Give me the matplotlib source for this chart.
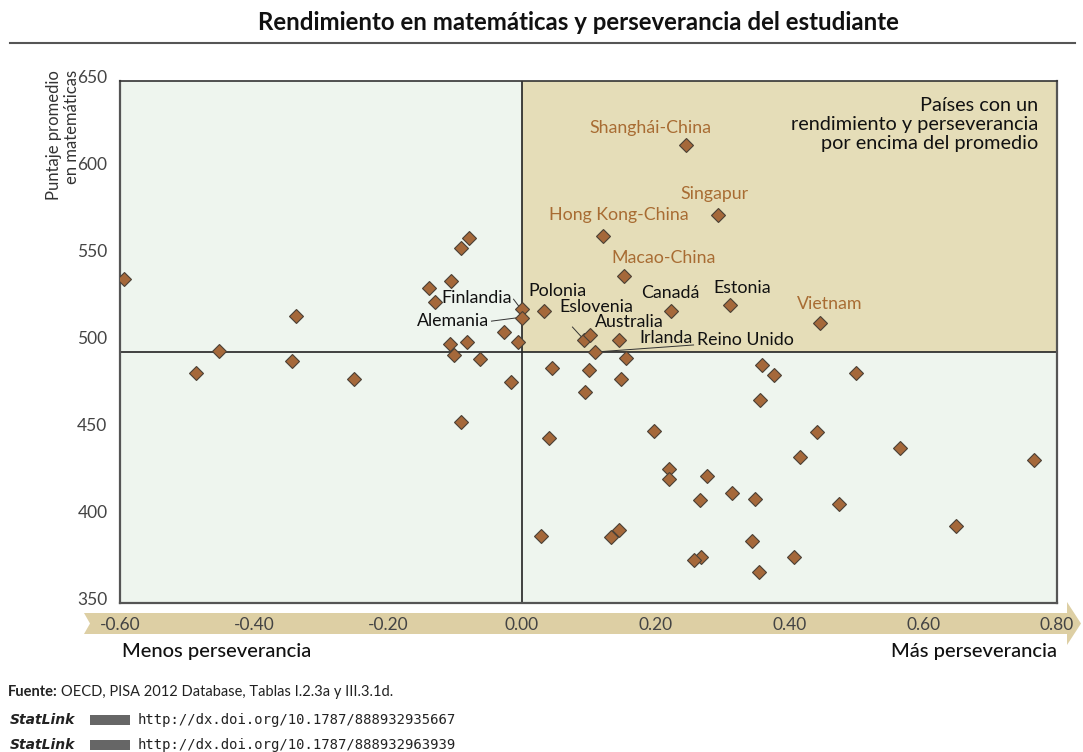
import matplotlib
matplotlib.use("Agg")
import matplotlib.pyplot as plt
import matplotlib.transforms as mtransforms
from matplotlib.patches import Polygon, Rectangle

# perseverance index (x) vs mean maths score (y)
persev = [-0.594, -0.486, -0.452, -0.337, -0.343, -0.251, -0.079, -0.090, -0.106, -0.139,
          -0.129, -0.027, -0.005, -0.107, -0.082, -0.101, -0.062, -0.016, -0.090,
          0.156, 0.046, 0.100, 0.148, 0.095, 0.359, 0.377, 0.356, 0.442, 0.198,
          0.041, 0.416, 0.221, 0.221, 0.277, 0.315, 0.266, 0.349, 0.029, 0.146,
          0.133, 0.345, 0.407, 0.268, 0.258, 0.355, 0.499, 0.566, 0.766, 0.475, 0.649]
maths = [536, 482, 495, 515, 489, 479, 560, 554, 535, 531,
         523, 506, 500, 499, 500, 492.5, 490, 477, 454,
         491, 485, 484, 479, 471, 487, 481, 466.5, 448.5, 449,
         444.6, 434, 427, 421, 423, 413, 409, 410, 388.5, 392,
         388, 385.6, 376.6, 376.4, 375, 368, 482, 439, 432, 407, 394]

# labelled countries
named = ["Shanghái-China", "Singapur", "Hong Kong-China", "Macao-China", "Vietnam",
         "Finlandia", "Alemania", "Polonia", "Eslovenia", "Australia", "Irlanda",
         "Reino Unido", "Canadá", "Estonia"]
named_x = [0.246, 0.294, 0.122, 0.153, 0.446, 0.001, 0.000, 0.034, 0.093, 0.102,
           0.146, 0.109, 0.224, 0.311]
named_y = [613, 573, 561, 538, 511, 519, 514, 518, 501, 504, 501, 494, 518, 521]
partner = [True, True, True, True, True, False, False, False, False, False, False,
           False, False, False]
# where the names sit (data units)
lab_x = [0.1925, 0.288, 0.145, 0.212, 0.461, -0.015, -0.048, 0.054, 0.112, 0.161,
         0.216, 0.334, 0.222, 0.330]
lab_y = [623, 585, 573, 548.3, 521.8, 525.3, 512, 529.3, 520, 511.5, 502.3, 501.1, 528, 531]
lab_ha = ["center"] * 5 + ["right", "right"] + ["center"] * 7

mean_x = 0.0
mean_y = 494
xticks = [-0.6, -0.4, -0.2, 0.0, 0.2, 0.4, 0.6, 0.8]
yticks = [350, 400, 450, 500, 550, 600, 650]

plt.rcParams["font.family"] = ["Lato", "DejaVu Sans"]

brown = "#a5683a"
orange = "#a86c33"
green_bg = "#eef5ee"
tan = "#e5ddb8"
band = "#ddcfa4"

fig = plt.figure(figsize=(10.83, 7.52), dpi=100)
ax = fig.add_axes([0.1108, 0.1981, 0.8652, 0.6942])
ax.set_facecolor(green_bg)
ax.set_xlim(-0.6, 0.8)
ax.set_ylim(350, 650)

ax.fill_between([mean_x, 0.8], mean_y, 650, color=tan, zorder=0, lw=0)
ax.axhline(mean_y, color="#222222", lw=1.2, zorder=1)
ax.axvline(mean_x, color="#222222", lw=1.2, zorder=1)

allx = persev + named_x
ally = maths + named_y
ax.plot(allx, ally, ls="none", marker="D", ms=7.4, mfc=brown, mec="#4a4035",
        mew=0.8, zorder=3)

for i, name in enumerate(named):
    ax.text(lab_x[i], lab_y[i], name, ha=lab_ha[i], va="center", fontsize=12.8,
            color=orange if partner[i] else "#111111", zorder=4)

# leader lines
leaders = [([-0.012, -0.003], [524.6, 520]), ([-0.045, -0.009], [512, 513.8]),
           ([0.076, 0.091], [508.6, 502.3]), ([0.257, 0.112], [498.3, 494.3])]
for lx, ly in leaders:
    ax.plot(lx, ly, color="#333333", lw=0.7, zorder=2)

ax.text(0.772, 641, "Países con un\nrendimiento y perseverancia\npor encima del promedio",
        ha="right", va="top", fontsize=14.3, color="#111111", linespacing=1.15)

for s in ax.spines.values():
    s.set_color("#555555")
    s.set_linewidth(1.6)
ax.spines["top"].set_color("#333333")
ax.spines["top"].set_linewidth(1.2)

ax.set_yticks(yticks)
ax.set_yticklabels([str(v) for v in yticks])
ax.tick_params(axis="y", length=0, pad=9, labelsize=12.5, labelcolor="#444444")
ax.set_xticks(xticks)
ax.set_xticklabels(["%.2f" % v for v in xticks])
ax.tick_params(axis="x", length=0, pad=10, labelsize=12.5, labelcolor="#444444")
shift_up = mtransforms.ScaledTranslation(0, 3 / 72, fig.dpi_scale_trans)
for lbl in ax.get_yticklabels():
    lbl.set_transform(lbl.get_transform() + shift_up)

ax.text(-0.061, 1.021, "Puntaje promedio\nen matemáticas", transform=ax.transAxes,
        rotation=90, ha="center", va="top", multialignment="right",
        fontsize=12, color="#333333", linespacing=1.15)

# arrow band behind the x tick labels (figure pixels -> fraction)
W, H = 1083.0, 752.0
pts = [(84, 613), (1067, 613), (1067, 602), (1081, 623.5), (1067, 645), (1067, 634),
       (84, 634), (90, 623.5)]
fig.patches.append(Polygon([(x / W, 1 - y / H) for x, y in pts], closed=True,
                           transform=fig.transFigure, facecolor=band, lw=0, zorder=-5))

fig.text(122 / W, 1 - 652 / H, "Menos perseverancia", ha="left", va="center",
         fontsize=14.5, fontweight="medium", color="#111111")
fig.text(1057 / W, 1 - 652 / H, "Más perseverancia", ha="right", va="center",
         fontsize=14.5, fontweight="medium", color="#111111")

fig.text(0.5 * (258 + 898) / W, 1 - 22 / H,
         "Rendimiento en matemáticas y perseverancia del estudiante",
         ha="center", va="center", fontsize=17.3, fontweight="bold", color="#111111")
fig.add_artist(plt.Line2D([10 / W, 1075 / W], [1 - 43 / H, 1 - 43 / H],
                          transform=fig.transFigure, color="#555555", lw=1.5))

fig.text(8 / W, 1 - 692 / H, "Fuente:", ha="left", va="center", fontsize=10.5,
         fontweight="bold", color="#222222")
fig.text(61 / W, 1 - 692 / H, "OECD, PISA 2012 Database, Tablas I.2.3a y III.3.1d.",
         ha="left", va="center", fontsize=10.5, color="#222222")
for yy, url in [(720, "http://dx.doi.org/10.1787/888932935667"),
                (745, "http://dx.doi.org/10.1787/888932963939")]:
    fig.text(10 / W, 1 - yy / H, "StatLink", ha="left", va="center", fontsize=10,
             fontweight="bold", style="italic", color="#222222",
             family=["DejaVu Sans"])
    fig.patches.append(Rectangle((90 / W, 1 - (yy + 5) / H), 40 / W, 10 / H,
                                 transform=fig.transFigure, facecolor="#666666",
                                 lw=0))
    fig.text(138 / W, 1 - yy / H, url, ha="left", va="center", fontsize=10,
             family=["DejaVu Sans Mono"], color="#222222")

fig.savefig("out.png", dpi=100)
